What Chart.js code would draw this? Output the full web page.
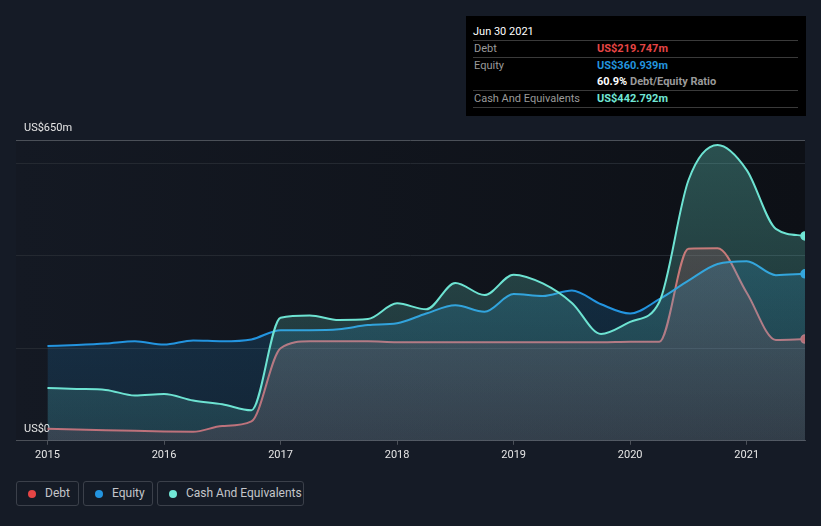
<!DOCTYPE html>
<html>
<head>
<meta charset="utf-8">
<script src="https://cdn.jsdelivr.net/npm/chart.js@4"></script>
<style>
  body { margin: 0; background: #151b26; font-family: Roboto, sans-serif; }
  #wrap { position: relative; width: 821px; height: 526px; overflow: hidden; }
  #chartBox { position: absolute; left: 0; top: 0; width: 821px; height: 470px; }
  .tip { position: absolute; left: 466px; top: 16px; width: 340px; height: 100px; background: #000; font-size: 11px; }
  .tip .row { position: absolute; left: 7px; width: 325px; height: 17px; line-height: 17px; }
  .tip .sep { border-bottom: 1px solid #3a3a3a; }
  .tip .lab { position: absolute; left: 1px; color: #9a9a9a; }
  .tip .val { position: absolute; left: 124px; font-weight: bold; }
  .legend { position: absolute; top: 481px; height: 25px; border: 1px solid #3b404a; border-radius: 3px; box-sizing: border-box; color: #c4c6ca; font-size: 12px; line-height: 23px; }
  .legend i { position: absolute; left: 11px; top: 8px; width: 8px; height: 8px; border-radius: 50%; }
  .legend span { position: absolute; left: 28px; white-space: nowrap; }
</style>
</head>
<body>
<div id="wrap">
  <div id="chartBox"><canvas id="myChart"></canvas></div>

  <div class="tip">
    <div class="row sep" style="top:7px;color:#fff;">Jun 30 2021</div>
    <div class="row sep" style="top:24px;"><span class="lab">Debt</span><span class="val" style="color:#e64545;">US$219.747m</span></div>
    <div class="row" style="top:41px;"><span class="lab">Equity</span><span class="val" style="color:#2394df;">US$360.939m</span></div>
    <div class="row sep" style="top:57px;"><span class="val" style="color:#fff;">60.9% <span style="color:#9a9a9a;">Debt/Equity Ratio</span></span></div>
    <div class="row sep" style="top:74px;"><span class="lab">Cash And Equivalents</span><span class="val" style="color:#71e7d6;">US$442.792m</span></div>
  </div>

  <div class="legend" style="left:16px;width:63px;"><i style="background:#e64545;"></i><span>Debt</span></div>
  <div class="legend" style="left:83px;width:70px;"><i style="background:#2394df;"></i><span>Equity</span></div>
  <div class="legend" style="left:157px;width:147px;"><i style="background:#71e7d6;"></i><span>Cash And Equivalents</span></div>
</div>

<script>
"use strict";

// quarter ends, as decimal years
const dates = [2015.0, 2015.25, 2015.5, 2015.75, 2016.0, 2016.25, 2016.5, 2016.75,
  2017.0, 2017.25, 2017.5, 2017.75, 2018.0, 2018.25, 2018.5, 2018.75,
  2019.0, 2019.25, 2019.5, 2019.75, 2020.0, 2020.25, 2020.5, 2020.75,
  2021.0, 2021.25, 2021.5];

// US$m
const debt = [26, 24.5, 23, 21.5, 20, 19.5, 32, 42,
  200, 215, 215, 215, 213, 213, 213, 213,
  213, 213, 213, 213, 214, 214, 415, 416,
  320, 218, 219.747];

const equity = [205, 207, 210, 215, 208, 217, 215, 219,
  239, 239, 241, 250, 254, 275, 293, 279,
  317, 313, 325, 295, 275, 306, 346, 382,
  388, 358, 360.939];

const cash = [114, 112, 110, 98, 101, 87, 79, 66,
  266, 271, 261, 263, 297, 284, 341, 315,
  359, 340, 298, 231, 257, 300, 563, 639,
  585, 458, 442.792];

const yearTicks = [2015, 2016, 2017, 2018, 2019, 2020, 2021];
const yTicks = [0, 200, 400, 600, 650];

function toPoints(values) {
  const pts = [];
  for (let i = 0; i < dates.length; i++) {
    pts.push({ x: dates[i], y: values[i] });
  }
  return pts;
}

function areaFill(r, g, b, aTop, aBottom) {
  return function (context) {
    const chart = context.chart;
    const area = chart.chartArea;
    if (!area) {
      return null;
    }
    const grad = chart.ctx.createLinearGradient(0, area.top, 0, area.bottom);
    grad.addColorStop(0, `rgba(${r},${g},${b},${aTop})`);
    grad.addColorStop(1, `rgba(${r},${g},${b},${aBottom})`);
    return grad;
  };
}

function lastPointOnly(context) {
  return context.dataIndex === dates.length - 1 ? 4 : 0;
}

const plotBackground = {
  id: "plotBackground",
  beforeDraw(chart) {
    const { ctx, chartArea } = chart;
    const grad = ctx.createLinearGradient(chartArea.left, 0, chartArea.right, 0);
    grad.addColorStop(0, "#141923");
    grad.addColorStop(1, "#0d1016");
    ctx.save();
    ctx.fillStyle = grad;
    ctx.fillRect(chartArea.left, chartArea.top, chartArea.right - chartArea.left, chartArea.bottom - chartArea.top);
    ctx.restore();
  },
};

const data = {
  datasets: [
    {
      label: "Cash And Equivalents",
      data: toPoints(cash),
      borderColor: "#6de3d2",
      backgroundColor: areaFill(109, 227, 210, 0.3, 0.12),
      pointBackgroundColor: "#71e7d6",
      order: 1,
    },
    {
      label: "Equity",
      data: toPoints(equity),
      borderColor: "#2394df",
      backgroundColor: areaFill(33, 148, 223, 0.26, 0.12),
      pointBackgroundColor: "#2394df",
      order: 2,
    },
    {
      label: "Debt",
      data: toPoints(debt),
      borderColor: "#e25a5e",
      backgroundColor: areaFill(200, 60, 70, 0.28, 0.16),
      pointBackgroundColor: "#e64545",
      order: 3,
    },
  ],
};

const config = {
  type: "line",
  data: data,
  plugins: [plotBackground],
  options: {
    responsive: true,
    maintainAspectRatio: false,
    animation: false,
    events: [],
    layout: { padding: { top: 140, left: 0, right: 16, bottom: 4 } },
    elements: {
      line: { borderWidth: 2, fill: "origin", cubicInterpolationMode: "monotone" },
      point: { radius: lastPointOnly, borderColor: "#ffffff", borderWidth: 1.5 },
    },
    plugins: {
      legend: { display: false },
      tooltip: { enabled: false },
      filler: { drawTime: "beforeDatasetDraw" },
    },
    scales: {
      x: {
        type: "linear",
        min: 2014.73,
        max: 2021.5,
        afterBuildTicks: (axis) => {
          axis.ticks = yearTicks.map((v) => ({ value: v }));
        },
        ticks: {
          color: "#e6e6e6",
          font: { family: "Roboto", size: 11 },
          padding: 4,
          maxRotation: 0,
          callback: (value) => String(value),
        },
        grid: { drawOnChartArea: false, drawTicks: true, tickLength: 4, color: "#4b5058" },
        border: { color: "#4b5058", width: 1 },
      },
      y: {
        type: "linear",
        min: 0,
        max: 650,
        afterBuildTicks: (axis) => {
          axis.ticks = yTicks.map((v) => ({ value: v }));
        },
        ticks: {
          mirror: true,
          padding: 8,
          labelOffset: -12,
          color: "#e6e6e6",
          font: { family: "Roboto", size: 11 },
          callback: (value) => {
            if (value === 0) return "US$0";
            if (value === 650) return "US$650m";
            return "";
          },
        },
        grid: {
          drawTicks: false,
          color: (ctx) => (ctx.tick && (ctx.tick.value === 650 || ctx.tick.value === 0) ? "#4b5058" : "#242931"),
        },
        border: { display: false },
      },
    },
  },
};

const chartCanvas = document.getElementById("myChart");
const myChart = new Chart(chartCanvas, config);
</script>
</body>
</html>
